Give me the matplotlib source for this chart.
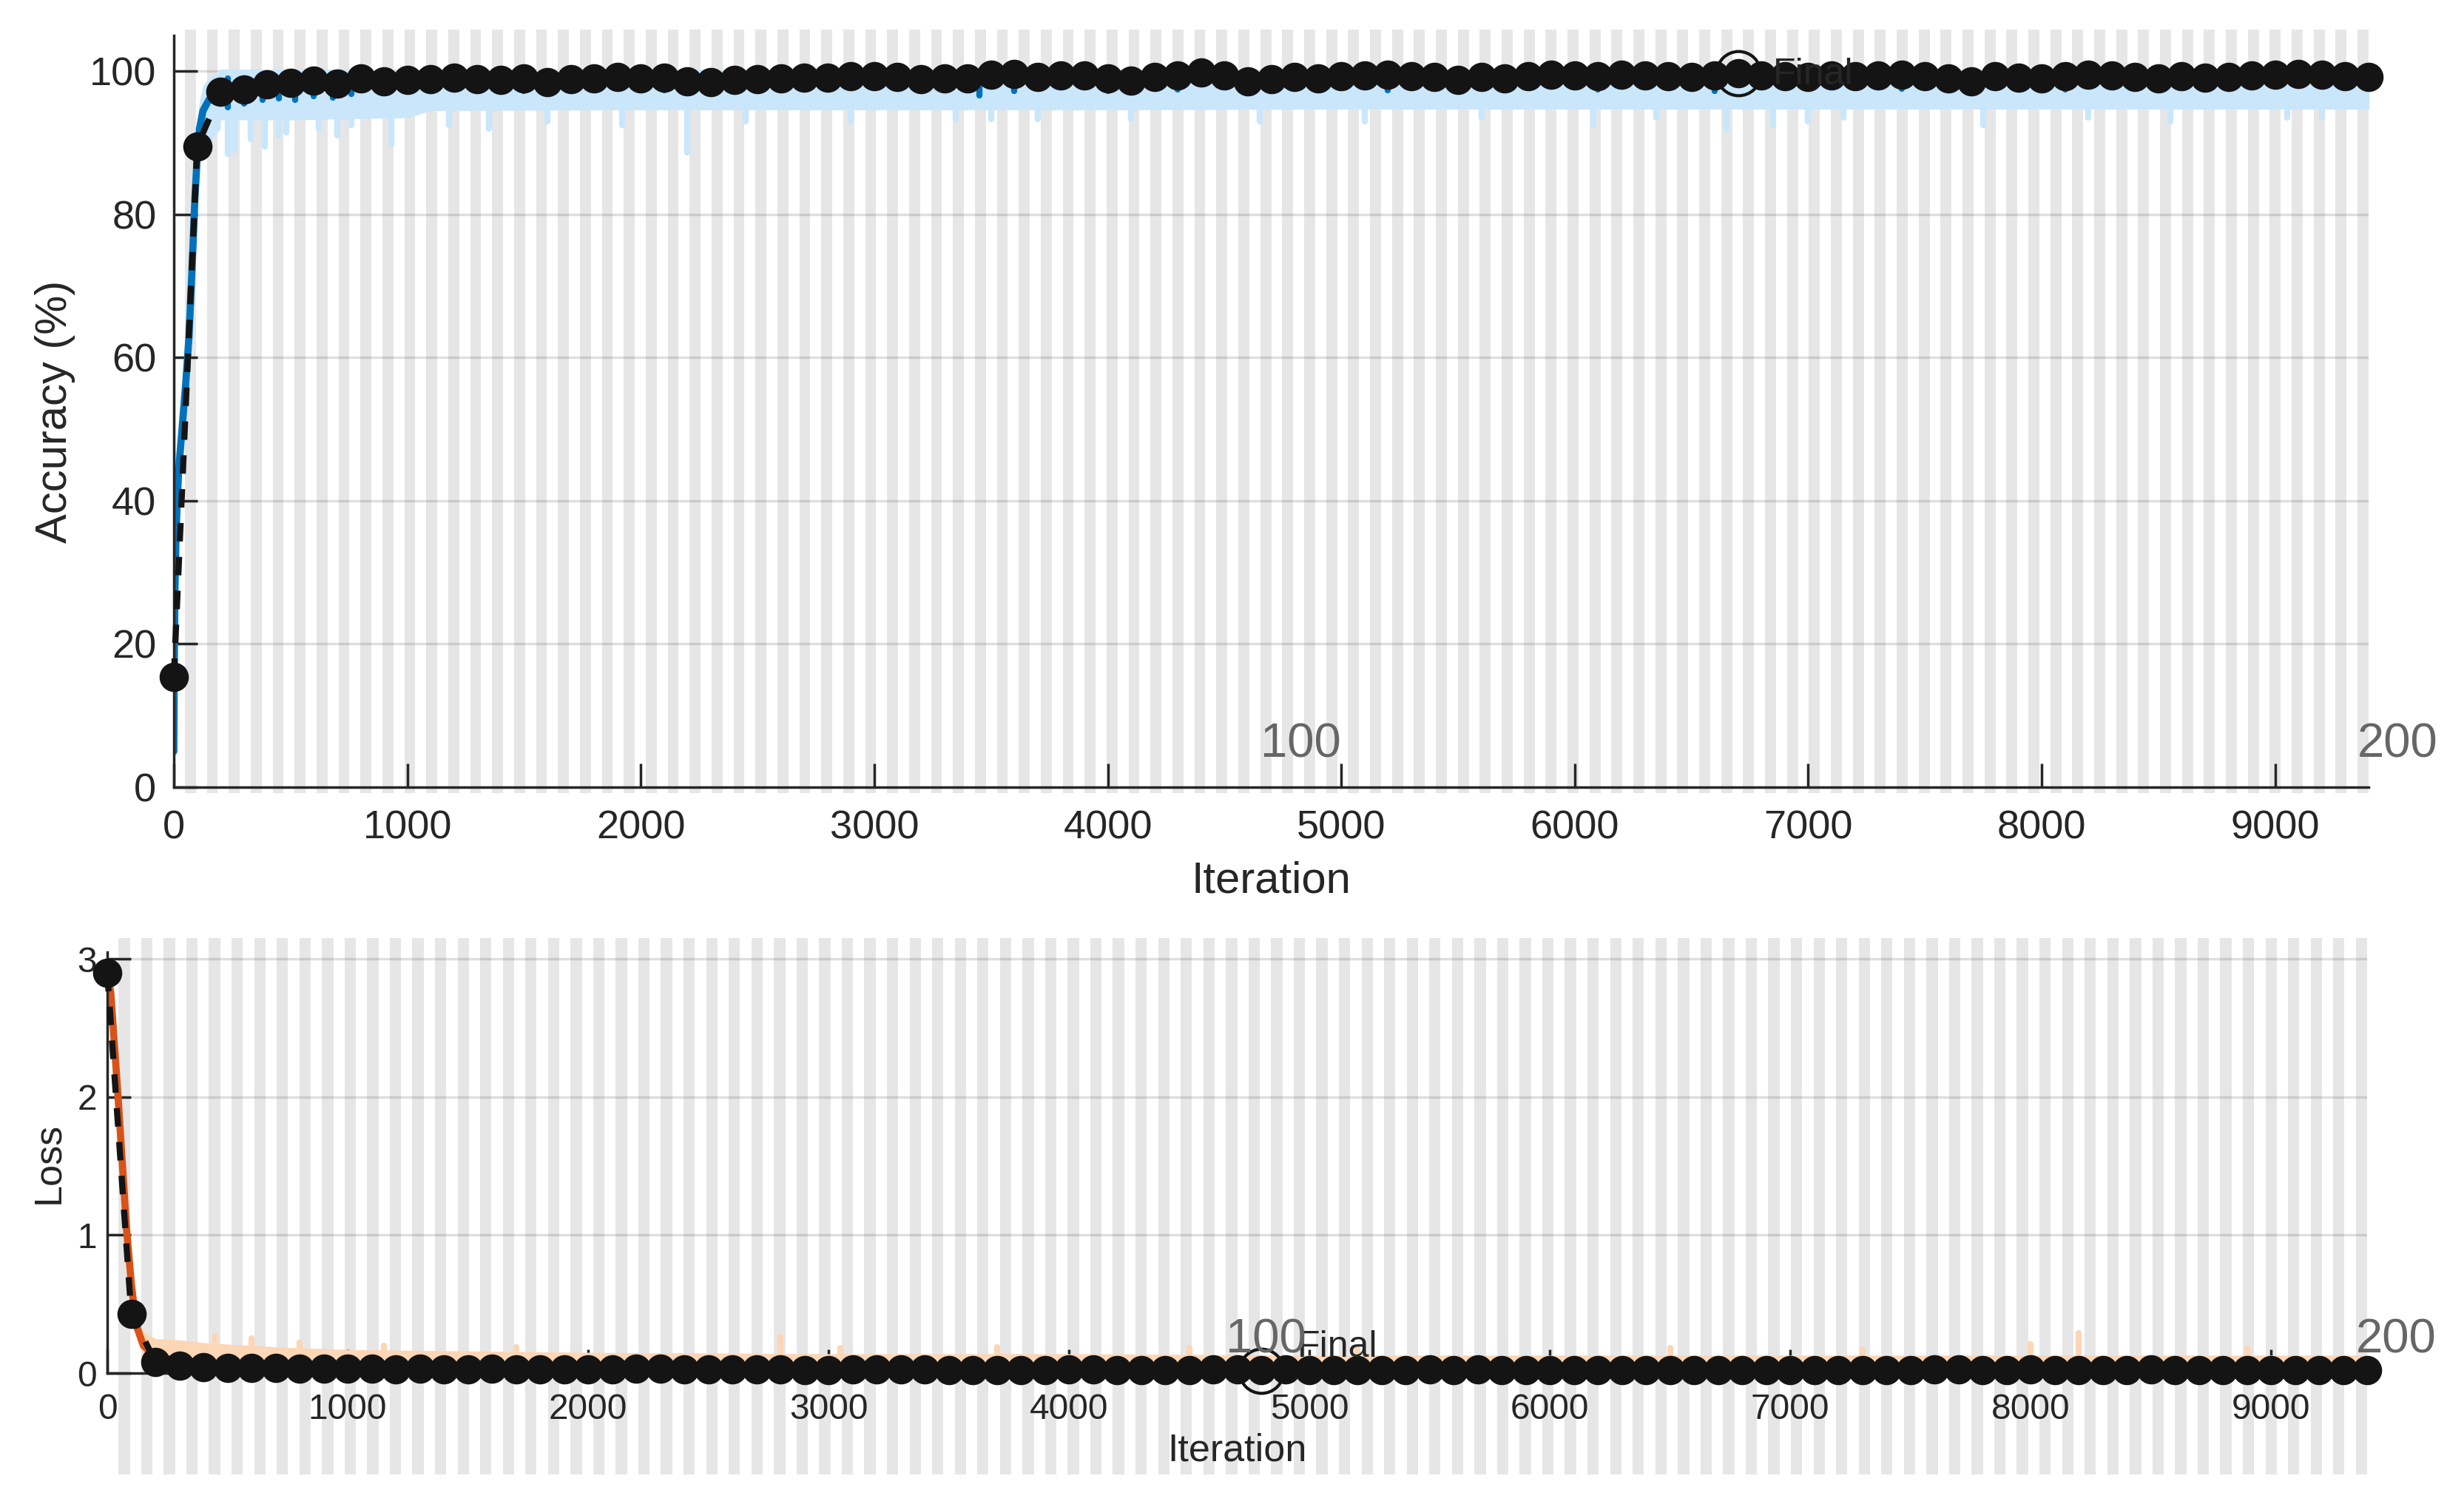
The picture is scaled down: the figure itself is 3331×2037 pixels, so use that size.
import numpy as np
import matplotlib
matplotlib.use("Agg")
import matplotlib.pyplot as plt

# ---------------- data ----------------
n_epochs = 200
iters_per_epoch = 47
max_iter = 9400

val_iter = list(range(0, 9401, 100))
val_acc = [15.4, 89.5, 97.1, 97.5, 98.2, 98.4, 98.7, 98.3, 99.0, 98.6,
           98.8, 98.9, 99.1, 98.9, 98.8, 99.0, 98.5, 98.9, 99.0, 99.2,
           99.0, 99.1, 98.6, 98.5, 98.8, 98.9, 99.0, 99.1, 99.1, 99.3,
           99.3, 99.2, 98.9, 99.0, 99.0, 99.55, 99.65, 99.2, 99.45, 99.4,
           99.0, 98.7, 99.2, 99.4, 99.8, 99.4, 98.6, 98.9, 99.2, 99.0,
           99.3, 99.4, 99.5, 99.3, 99.2, 98.8, 99.2, 99.0, 99.3, 99.5,
           99.4, 99.3, 99.5, 99.4, 99.3, 99.2, 99.4, 99.7, 99.4, 99.3,
           99.2, 99.4, 99.3, 99.4, 99.5, 99.3, 99.0, 98.6, 99.3, 99.1,
           99.0, 99.3, 99.5, 99.4, 99.2, 99.0, 99.3, 99.1, 99.2, 99.4,
           99.5, 99.6, 99.5, 99.3, 99.2]
val_loss = [2.90, 0.43, 0.083, 0.052, 0.045, 0.040, 0.036, 0.035, 0.031, 0.032,
            0.030, 0.030, 0.029, 0.030, 0.028, 0.029, 0.031, 0.028, 0.027, 0.027,
            0.028, 0.027, 0.030, 0.031, 0.028, 0.027, 0.026, 0.026, 0.025, 0.024,
            0.024, 0.025, 0.027, 0.026, 0.026, 0.022, 0.021, 0.024, 0.022, 0.023,
            0.026, 0.028, 0.024, 0.023, 0.020, 0.023, 0.029, 0.026, 0.024, 0.025,
            0.023, 0.022, 0.021, 0.023, 0.024, 0.027, 0.024, 0.025, 0.023, 0.021,
            0.022, 0.023, 0.021, 0.022, 0.023, 0.024, 0.022, 0.020, 0.022, 0.023,
            0.024, 0.022, 0.023, 0.022, 0.021, 0.023, 0.025, 0.029, 0.023, 0.024,
            0.025, 0.023, 0.021, 0.022, 0.024, 0.025, 0.023, 0.024, 0.024, 0.022,
            0.021, 0.020, 0.021, 0.023, 0.024]

# training accuracy: early rise (raw band and smoothed), then plateau band
acc_rise_iter = [0, 2, 5, 10, 20, 35, 50, 65, 80, 90, 100, 110, 125, 150, 175, 200]
acc_rise_smooth = [5, 18, 28, 36, 44, 50, 56, 63, 74, 82, 88, 92, 94.5, 96, 96.8, 97.2]
acc_rise_lo = [5, 8, 16, 26, 36, 44, 50, 57, 68, 77, 83, 87, 89, 90, 91, 92]
acc_rise_hi = [10, 47, 47, 46, 50, 55, 62, 70, 82, 88, 93, 96, 98, 99, 99.5, 100]
acc_band_iter = [200, 500, 1000, 1100, 2000, 3000, 4000, 5000, 6000, 7000, 8000, 9400]
acc_band_lo = [93.5, 93.5, 93.8, 94.8, 94.9, 94.9, 94.9, 95.0, 95.0, 95.0, 95.0, 95.0]
acc_band_hi = [100, 100, 100, 100, 100, 100, 100, 100, 100, 100, 100, 100]
acc_spike_iter = [230, 260, 330, 390, 450, 480, 620, 700, 760, 930, 1180, 1350, 1600,
                  1920, 2200, 2450, 2900, 3350, 3500, 3700, 4100, 4650, 5100, 5600,
                  6080, 6350, 6650, 6850, 7000, 7150, 7750, 8200, 8550, 9050, 9200]
acc_spike_val = [88.5, 89.0, 90.5, 89.5, 91.0, 91.5, 92.0, 91.0, 92.5, 89.8, 92.5, 92.0,
                 93.0, 92.5, 88.7, 93.0, 93.0, 93.3, 93.3, 93.3, 93.3, 93.0, 93.0, 93.5,
                 92.5, 93.5, 92.0, 92.5, 93.0, 93.5, 92.5, 93.5, 93.0, 93.5, 93.5]
acc_sdip_iter = [230, 300, 380, 450, 520, 600, 680, 760, 900, 1100, 1500, 2100, 3200,
                 3450, 3600, 4000, 4300, 5200, 6100, 6600, 7400, 8100, 8800]
acc_sdip_val = [95.0, 95.5, 96.0, 96.2, 96.0, 96.5, 96.3, 96.8, 97.0, 97.2, 97.3, 97.4,
                97.5, 96.6, 97.2, 97.3, 97.5, 97.4, 97.5, 97.3, 97.6, 97.5, 97.6]

# training loss
loss_rise_iter = [0, 15, 45, 80, 100, 120, 150, 200, 300]
loss_rise_smooth = [2.90, 2.75, 2.00, 1.05, 0.65, 0.35, 0.20, 0.12, 0.09]
loss_rise_lo = [2.85, 2.65, 1.90, 0.95, 0.55, 0.28, 0.12, 0.05, 0.02]
loss_rise_hi = [2.95, 2.85, 2.10, 1.15, 0.75, 0.45, 0.30, 0.25, 0.24]
loss_band_iter = [300, 400, 700, 1000, 1500, 2000, 3000, 4000, 5000, 6000, 7000, 8000, 9400]
loss_band_lo = [0.0] * 13
loss_band_hi = [0.24, 0.22, 0.19, 0.17, 0.16, 0.15, 0.14, 0.14, 0.13, 0.13, 0.13, 0.13, 0.13]
loss_spike_iter = [450, 600, 800, 1150, 1700, 2800, 3050, 3700, 4500, 5200, 6500, 7300, 8000, 8200, 8900]
loss_spike_val = [0.27, 0.25, 0.22, 0.20, 0.19, 0.26, 0.18, 0.19, 0.18, 0.17, 0.18, 0.17, 0.21, 0.29, 0.18]

final_acc = (6700, 99.7)
final_loss = (4800, 0.016)
epoch_labels = [100, 200]

# ---------------- style ----------------
W, H, DPI = 3331, 2037, 100
plt.rcParams['font.family'] = ['Liberation Sans', 'DejaVu Sans']
fig = plt.figure(figsize=(W / DPI, H / DPI), dpi=DPI)

def rect(x0, y0, x1, y1):
    return [x0 / W, 1 - y1 / H, (x1 - x0) / W, (y1 - y0) / H]

C_AX = '#262626'
C_BAND = '#e6e6e6'
C_RAW_ACC = '#c9e6fb'
C_ACC = '#0072BD'
C_RAW_LOSS = '#fdd6b6'
C_LOSS = '#D95319'
C_VAL = '#141414'

def shade(axbg):
    for e in range(1, n_epochs, 2):
        axbg.axvspan(e * iters_per_epoch, (e + 1) * iters_per_epoch, color=C_BAND, lw=0)
    axbg.set_xlim(0, max_iter)
    axbg.set_ylim(0, 1)
    axbg.axis('off')

def style(ax, ylim, yticks, tick_fs, xpad, ypad):
    ax.set_facecolor('none')
    ax.set_xlim(0, max_iter)
    ax.set_ylim(*ylim)
    ax.set_xticks(range(0, 9001, 1000))
    ax.set_yticks(yticks)
    for s in ['top', 'right']:
        ax.spines[s].set_visible(False)
    for s in ['left', 'bottom']:
        ax.spines[s].set_color(C_AX)
        ax.spines[s].set_linewidth(2.5)
    ax.tick_params(axis='both', direction='in', length=23, width=2.5, color=C_AX,
                   labelcolor=C_AX, labelsize=tick_fs)
    ax.tick_params(axis='x', pad=xpad)
    ax.tick_params(axis='y', pad=ypad)
    ax.yaxis.grid(True, color=C_AX, alpha=0.15, lw=2.4)
    ax.set_axisbelow(True)

# ---------------- top: accuracy ----------------
bg1 = fig.add_axes(rect(235, 40, 3202, 1072), zorder=0)
shade(bg1)
ax1 = fig.add_axes(rect(235, 48, 3202, 1064), zorder=1)
style(ax1, (0, 105), [0, 20, 40, 60, 80, 100], 39, 22, 17)

ax1.fill_between(acc_rise_iter, acc_rise_lo, acc_rise_hi, color=C_RAW_ACC, lw=0)
ax1.fill_between(acc_band_iter, acc_band_lo, acc_band_hi, color=C_RAW_ACC, lw=4)
ax1.vlines(acc_spike_iter, acc_spike_val, 96, colors=C_RAW_ACC, lw=6, capstyle='round')
ax1.plot(acc_rise_iter, acc_rise_smooth, color=C_ACC, lw=7, solid_capstyle='round')
ax1.vlines(acc_sdip_iter, acc_sdip_val, 99, colors=C_ACC, lw=6, capstyle='round')
ax1.plot(val_iter, val_acc, color=C_VAL, lw=6, ls=(0, (3, 2.5)), marker='o', ms=27.5,
         mfc=C_VAL, mec=C_VAL, clip_on=False, zorder=5)
ax1.plot(*final_acc, 'o', ms=43, mfc='none', mec=C_VAL, mew=3, zorder=6, clip_on=False)
ax1.text(final_acc[0] + 150, final_acc[1] - 0.2, 'Final', fontsize=36, color=C_AX,
         va='center', ha='left', zorder=7)
ax1.set_xlabel('Iteration', fontsize=43, color=C_AX)
ax1.set_ylabel('Accuracy (%)', fontsize=43, color=C_AX)
ax1.xaxis.set_label_coords(0.5, -0.125)
ax1.xaxis.label.set_va('center')
ax1.yaxis.set_label_coords(-0.054, 0.5)
ax1.yaxis.label.set_va('center')
for e in epoch_labels:
    ax1.text((e - 1) * iters_per_epoch, 4.2, str(e), fontsize=47, color='#666666',
             ha='left', va='baseline', clip_on=False, zorder=7)

# ---------------- bottom: loss ----------------
bg2 = fig.add_axes(rect(145, 1268, 3200, 1993), zorder=0)
shade(bg2)
ax2 = fig.add_axes(rect(145, 1287, 3200, 1856), zorder=1)
style(ax2, (0, 3.05), [0, 1, 2, 3], 34.5, 19.5, 10)

ax2.fill_between(loss_rise_iter, loss_rise_lo, loss_rise_hi, color=C_RAW_LOSS, lw=0)
ax2.fill_between(loss_band_iter, loss_band_lo, loss_band_hi, color=C_RAW_LOSS, lw=0)
ax2.vlines(loss_spike_iter, 0.1, loss_spike_val, colors=C_RAW_LOSS, lw=6, capstyle='round')
ax2.plot(loss_rise_iter, loss_rise_smooth, color=C_LOSS, lw=7, solid_capstyle='round')
ax2.plot(val_iter, val_loss, color=C_VAL, lw=6, ls=(0, (3, 2.5)), marker='o', ms=27.5,
         mfc=C_VAL, mec=C_VAL, clip_on=False, zorder=5)
ax2.plot(*final_loss, 'o', ms=43, mfc='none', mec=C_VAL, mew=3, zorder=6, clip_on=False)
ax2.text(final_loss[0] + 150, final_loss[1] + 0.17, 'Final', fontsize=36, color=C_AX,
         va='center', ha='left', zorder=7)
ax2.set_xlabel('Iteration', fontsize=37.5, color=C_AX)
ax2.set_ylabel('Loss', fontsize=37.5, color=C_AX)
ax2.xaxis.set_label_coords(0.5, -0.185)
ax2.xaxis.label.set_va('center')
ax2.yaxis.set_label_coords(-0.026, 0.5)
ax2.yaxis.label.set_va('center')
for e in epoch_labels:
    ax2.text((e - 1) * iters_per_epoch, 0.15, str(e), fontsize=47, color='#666666',
             ha='left', va='baseline', clip_on=False, zorder=7)

fig.savefig('out.png', dpi=DPI)
